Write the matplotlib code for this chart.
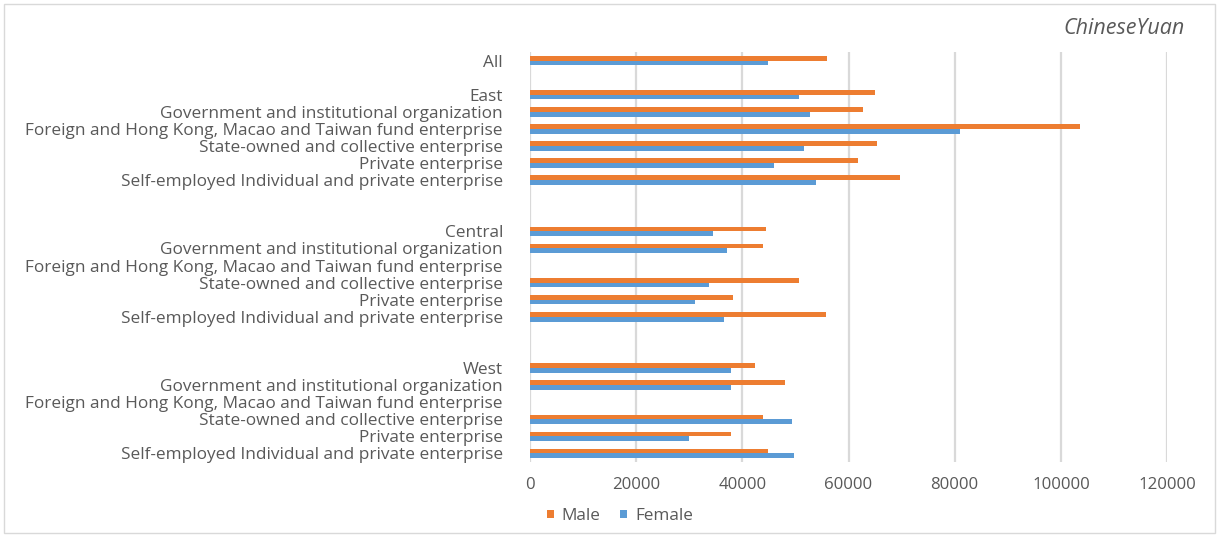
import matplotlib
matplotlib.use("Agg")
import matplotlib.pyplot as plt
from matplotlib.patches import Rectangle
import numpy as np

plt.rcParams['font.family'] = ['Open Sans', 'DejaVu Sans']

# Row labels top to bottom; empty strings are spacer rows between regions
categories = [
    "All", "",
    "East",
    "Government and institutional organization",
    "Foreign and Hong Kong, Macao and Taiwan fund enterprise",
    "State-owned and collective enterprise",
    "Private enterprise",
    "Self-employed Individual and private enterprise",
    "", "",
    "Central",
    "Government and institutional organization",
    "Foreign and Hong Kong, Macao and Taiwan fund enterprise",
    "State-owned and collective enterprise",
    "Private enterprise",
    "Self-employed Individual and private enterprise",
    "", "",
    "West",
    "Government and institutional organization",
    "Foreign and Hong Kong, Macao and Taiwan fund enterprise",
    "State-owned and collective enterprise",
    "Private enterprise",
    "Self-employed Individual and private enterprise",
]

# Annual income (Chinese Yuan); NaN where no value is reported
male = [
    55900, np.nan,
    65000, 62800, 103700, 65400, 61800, 69700,
    np.nan, np.nan,
    44500, 43900, np.nan, 50600, 38200, 55700,
    np.nan, np.nan,
    42300, 48000, np.nan, 43900, 37900, 44800,
]
female = [
    44800, np.nan,
    50700, 52700, 81000, 51700, 46000, 53900,
    np.nan, np.nan,
    34400, 37200, np.nan, 33800, 31100, 36600,
    np.nan, np.nan,
    37900, 37900, np.nan, 49400, 29900, 49700,
]

x_ticks = [0, 20000, 40000, 60000, 80000, 100000, 120000]

MALE_C = "#ED7D31"
FEMALE_C = "#5B9BD5"
TEXT_C = "#595959"

fig = plt.figure(figsize=(12.19, 5.37), dpi=100)
ax = fig.add_axes([530 / 1219, 1 - 462 / 537, (1167 - 530) / 1219, (462 - 52) / 537])

y = np.arange(len(categories))
h = 0.28
m = np.nan_to_num(np.array(male, dtype=float))
f = np.nan_to_num(np.array(female, dtype=float))
ax.barh(y - h / 2, m, height=h, color=MALE_C, label="Male", zorder=3)
ax.barh(y + h / 2, f, height=h, color=FEMALE_C, label="Female", zorder=3)

ax.set_ylim(len(categories) - 0.5, -0.5)
ax.set_xlim(0, 120000)
ax.set_yticks(y)
ax.set_yticklabels(categories, fontsize=12.4, color=TEXT_C)
ax.set_xticks(x_ticks)
ax.set_xticklabels([str(t) for t in x_ticks], fontsize=12.1, color=TEXT_C)
ax.tick_params(axis='y', length=0, pad=19.5)
ax.tick_params(axis='x', length=0, pad=11)
for s in ax.spines.values():
    s.set_visible(False)
ax.grid(axis='x', color="#D9D9D9", linewidth=1.6, zorder=0)
ax.set_axisbelow(True)

fig.text(1185 / 1219, 1 - 29 / 537, "ChineseYuan", fontsize=15.5, style='italic',
         color=TEXT_C, ha='right', va='center')

handles = ax.get_legend_handles_labels()[0]
fig.legend(handles=handles, labels=["Male", "Female"],
           loc='center left', bbox_to_anchor=(547 / 1219, 1 - 516 / 537), ncol=2,
           frameon=False, fontsize=12.3, handlelength=0.4, handleheight=0.4,
           handletextpad=0.47, columnspacing=1.15, borderpad=0, borderaxespad=0,
           labelcolor=TEXT_C)

fig.patches.append(Rectangle((4 / 1219, 4 / 537), 1211 / 1219, 529 / 537,
                             transform=fig.transFigure, fill=False,
                             edgecolor="#D9D9D9", linewidth=1.0))

fig.savefig("out.png", dpi=100)
